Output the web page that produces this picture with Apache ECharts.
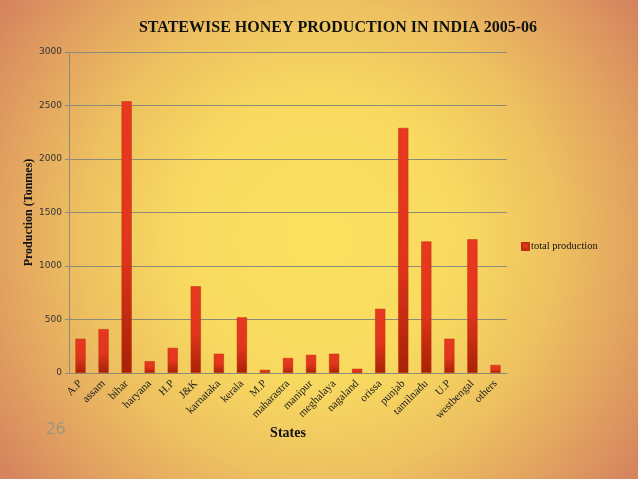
<!DOCTYPE html>
<html>
<head>
<meta charset="utf-8">
<title>Statewise honey production</title>
<script src="https://cdn.jsdelivr.net/npm/echarts@6/dist/echarts.min.js"></script>
<style>
  html, body { margin: 0; padding: 0; }
  #chart { width: 638px; height: 479px; }
</style>
</head>
<body>
<div id="chart"></div>
<script>
var states = ['A.P', 'assam', 'bihar', 'haryana', 'H.P', 'J&K', 'karnataka', 'kerala', 'M.P', 'maharastra',
  'manipur', 'meghalaya', 'nagaland', 'orissa', 'punjab', 'tamilnadu', 'U.P', 'westbengal', 'others'];
var production = [320, 410, 2540, 110, 235, 810, 180, 520, 30, 140, 170, 180, 40, 600, 2290, 1230, 320, 1250, 75];
var yTicks = { min: 0, max: 3000, interval: 500 };

var serif = '"Liberation Serif", serif';
var chart = echarts.init(document.getElementById('chart'), null, { renderer: 'canvas' });
chart.setOption({
  animation: false,
  backgroundColor: new echarts.graphic.RadialGradient(0.5, 0.5, 0.83, [
    { offset: 0, color: '#fbe25f' },
    { offset: 0.35, color: '#f8da60' },
    { offset: 0.6, color: '#edc060' },
    { offset: 0.8, color: '#e2a260' },
    { offset: 1, color: '#d5825e' }
  ]),
  title: {
    text: 'STATEWISE HONEY PRODUCTION IN INDIA 2005-06',
    left: 333,
    top: 15,
    textAlign: 'center',
    textStyle: { fontFamily: serif, fontSize: 16, fontWeight: 'bold', color: '#111' }
  },
  legend: {
    left: 516,
    top: 236,
    itemWidth: 7,
    itemHeight: 7,
    itemGap: 0,
    textStyle: { fontFamily: serif, fontSize: 10.5, color: '#111', padding: [0, 0, 0, -3] },
    data: [{ name: 'total production', icon: 'rect' }]
  },
  grid: { left: 69, right: 131, top: 52, bottom: 106 },
  xAxis: {
    type: 'category',
    data: states,
    name: 'States',
    nameLocation: 'middle',
    nameGap: 53,
    nameMoveOverlap: false,
    nameTextStyle: { fontFamily: serif, fontSize: 14, fontWeight: 'bold', color: '#111' },
    axisLine: { lineStyle: { color: '#8c8a78' } },
    axisTick: { show: false },
    axisLabel: { interval: 0, rotate: 45, margin: 9, fontFamily: serif, fontSize: 11, color: '#222' }
  },
  yAxis: {
    type: 'value',
    min: yTicks.min,
    max: yTicks.max,
    interval: yTicks.interval,
    name: 'Production (Tonmes)',
    nameLocation: 'middle',
    nameGap: 34,
    nameMoveOverlap: false,
    nameTextStyle: { fontFamily: serif, fontSize: 12, fontWeight: 'bold', color: '#111' },
    axisLine: { show: true, lineStyle: { color: '#8c8a78' } },
    axisTick: { show: true, length: 4, lineStyle: { color: '#8c8a78' } },
    splitLine: { lineStyle: { color: '#8c8a78' } },
    axisLabel: {
      margin: 7,
      fontFamily: '"DejaVu Sans", sans-serif',
      fontSize: 9,
      color: '#333',
      formatter: function(v) { return String(v); }
    }
  },
  series: [{
    name: 'total production',
    type: 'bar',
    data: production,
    barWidth: '44%',
    itemStyle: {
      color: new echarts.graphic.LinearGradient(0, 0, 0, 1, [
        { offset: 0, color: '#e8391f' },
        { offset: 0.55, color: '#e0351c' },
        { offset: 1, color: '#a82204' }
      ]),
      borderColor: '#c0300f',
      borderWidth: 0.5
    }
  }],
  graphic: [{
    type: 'text',
    left: 46,
    top: 421,
    style: { text: '26', font: '17px "Open Sans", sans-serif', fill: '#9a9480' }
  }]
});
window.addEventListener('resize', function() { chart.resize(); });
</script>
</body>
</html>
